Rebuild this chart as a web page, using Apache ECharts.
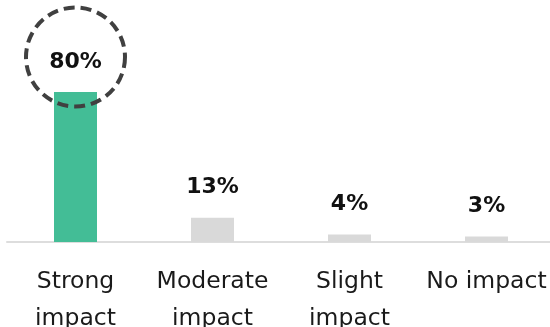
<!DOCTYPE html>
<html>
<head>
<meta charset="utf-8">
<script src="https://cdn.jsdelivr.net/npm/echarts@6/dist/echarts.min.js"></script>
<style>
  html, body { margin: 0; padding: 0; background: #fff; }
  #chart { width: 550px; height: 327px; }
</style>
</head>
<body>
<div id="chart"></div>
<script>
const categories = ['Strong\nimpact', 'Moderate\nimpact', 'Slight\nimpact', 'No impact'];
const shares = [80, 13, 4, 3];
const barColors = ['#43BD96', '#D9D9D9', '#D9D9D9', '#D9D9D9'];
const highlightIndex = 0;

const FONT = 'DejaVu Sans';

const chart = echarts.init(document.getElementById('chart'), null, { renderer: 'canvas' });

chart.setOption({
  animation: false,
  grid: {
    left: 7, right: -5, top: 54.5, bottom: 85,
    containLabel: false,
    outerBoundsMode: 'none'
  },
  xAxis: {
    type: 'category',
    data: categories,
    axisLine: { show: true, lineStyle: { color: '#DDDDDD', width: 2 } },
    axisTick: { show: false },
    axisLabel: {
      interval: 0,
      margin: 21,
      color: '#1a1a1a',
      fontFamily: FONT,
      fontSize: 23.5,
      lineHeight: 37
    }
  },
  yAxis: {
    type: 'value',
    min: 0,
    max: 100,
    show: false,
    splitLine: { show: false }
  },
  series: [{
    type: 'bar',
    barWidth: 43,
    data: shares.map((v, i) => ({ value: v, itemStyle: { color: barColors[i] } })),
    label: {
      show: true,
      position: 'top',
      distance: 19,
      formatter: '{c}%',
      color: '#111',
      fontFamily: FONT,
      fontWeight: 'bold',
      fontSize: 22
    },
    // dashed ring drawn around the highlighted bar's value
    markPoint: {
      silent: true,
      symbol: 'circle',
      symbolSize: 99,
      symbolOffset: [0, -35],
      itemStyle: {
        color: 'rgba(0,0,0,0)',
        borderColor: '#404040',
        borderWidth: 4,
        borderType: [11, 6]
      },
      label: { show: false },
      data: [{ coord: [highlightIndex, shares[highlightIndex]] }]
    }
  }]
});
</script>
</body>
</html>
